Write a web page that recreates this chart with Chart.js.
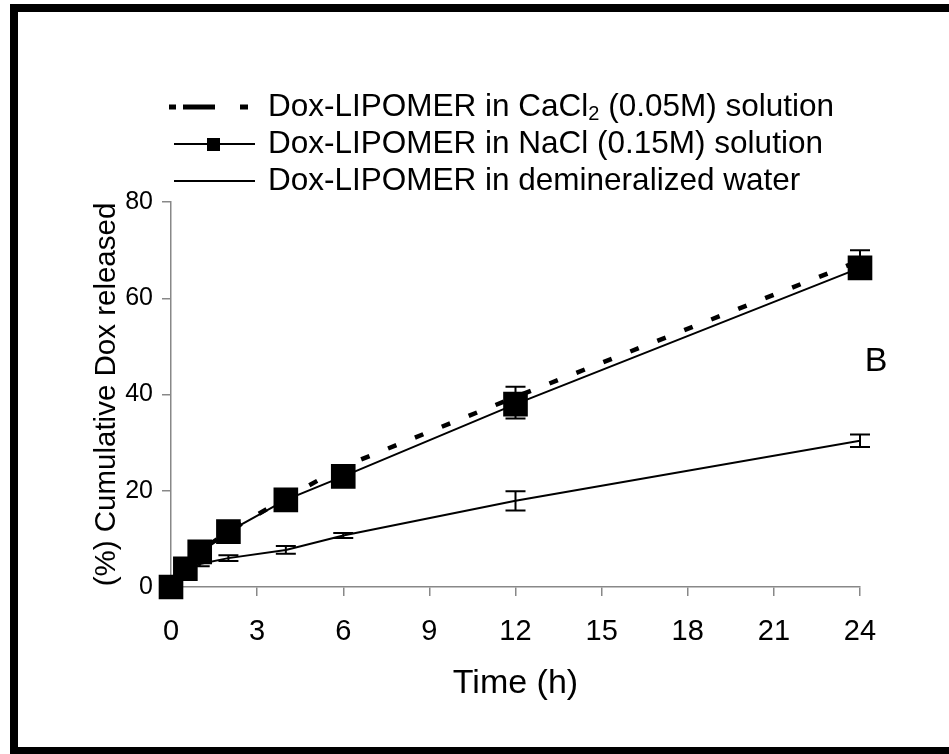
<!DOCTYPE html>
<html>
<head>
<meta charset="utf-8">
<title>Dox release</title>
<script src="https://cdn.jsdelivr.net/npm/chart.js@4"></script>
<style>
  html, body { margin: 0; padding: 0; background: #fff; overflow: hidden; }
  #frame {
    position: absolute; left: 10px; top: 4px; width: 960px; height: 750px;
    box-sizing: border-box; border-left: 8px solid #000; border-top: 8px solid #000; border-bottom: 7px solid #000;
  }
  #chart { position: absolute; left: 0; top: 0; }
</style>
</head>
<body>
<div id="frame"></div>
<canvas id="chart" width="949" height="754"></canvas>
<script>
// sampling times (h)
const hours = [0, 0.5, 1, 2, 4, 6, 12, 24]
// cumulative % released
const cacl2 = [0, 4, 7.5, 11.5, 18.5, 25, 39.5, 67.8]
const nacl = [0, 3.8, 7.3, 11.5, 18.1, 23, 38, 66.3]
const water = [0, 3, 4.8, 6, 7.7, 10.7, 17.9, 30.4]
// standard deviations (upper / lower)
const naclErrUp = [0, 0.5, 0.8, 1, 1, 1.2, 3.6, 3.7]
const naclErrDown = [0, 0.5, 0.8, 1, 1, 1.2, 3, 2]
const waterErrUp = [0, 0.3, 0.5, 0.6, 0.8, 0.5, 2, 1.3]
const waterErrDown = [0, 0.3, 0.5, 0.6, 0.8, 0.5, 2, 1.3]
const xTicks = [0, 3, 6, 9, 12, 15, 18, 21, 24]
const yTicks = [0, 20, 40, 60, 80]

const FONT = '"Liberation Sans", Arial, sans-serif'
const DASH = [9, 20]

function points(ys) {
    return hours.map((h, i) => ({ x: h, y: ys[i] }))
}

/**
 * @name errorBars
 * @description Draws vertical error bars with caps for datasets that carry errors.
 */
const errorBars = {
    id: 'errorBars',
    afterDatasetsDraw(chart) {
        const ctx = chart.ctx
        const xs = chart.scales.x
        const ys = chart.scales.y
        ctx.save()
        ctx.strokeStyle = '#000'
        ctx.lineWidth = 2
        chart.data.datasets.forEach(ds => {
            if (!ds.errUp) return
            ds.data.forEach((p, i) => {
                if (!ds.errUp[i] && !ds.errDown[i]) return
                const px = xs.getPixelForValue(p.x)
                const top = ys.getPixelForValue(p.y + ds.errUp[i])
                const bot = ys.getPixelForValue(Math.max(0, p.y - ds.errDown[i]))
                ctx.beginPath()
                ctx.moveTo(px, top)
                ctx.lineTo(px, bot)
                ctx.moveTo(px - 10, top)
                ctx.lineTo(px + 10, top)
                ctx.moveTo(px - 10, bot)
                ctx.lineTo(px + 10, bot)
                ctx.stroke()
            })
        })
        ctx.restore()
    },
}

/**
 * @name legendBox
 * @description Legend at the top with a subscript in CaCl2, plus the panel letter.
 */
const legendBox = {
    id: 'legendBox',
    afterDraw(chart) {
        const ctx = chart.ctx
        ctx.save()
        ctx.fillStyle = '#000'
        ctx.strokeStyle = '#000'
        ctx.textBaseline = 'middle'
        const tx = 268
        const rows = [107, 144, 181]

        // dash-dot sample
        ctx.lineWidth = 5
        ctx.setLineDash([7, 7, 32, 25, 8, 100])
        ctx.beginPath()
        ctx.moveTo(169, rows[0])
        ctx.lineTo(250, rows[0])
        ctx.stroke()
        ctx.setLineDash([])

        // line with square, plain line
        ctx.lineWidth = 2
        ctx.beginPath()
        ctx.moveTo(174, rows[1])
        ctx.lineTo(255, rows[1])
        ctx.moveTo(174, rows[2])
        ctx.lineTo(255, rows[2])
        ctx.stroke()
        ctx.fillRect(207, rows[1] - 6, 13, 13)

        const big = '31.5px ' + FONT
        ctx.font = big
        let s = 'Dox-LIPOMER in CaCl'
        ctx.fillText(s, tx, rows[0])
        let w = ctx.measureText(s).width
        ctx.font = '20px ' + FONT
        ctx.fillText('2', tx + w, rows[0] + 7)
        w += ctx.measureText('2').width
        ctx.font = big
        ctx.fillText(' (0.05M) solution', tx + w, rows[0])
        ctx.fillText('Dox-LIPOMER in NaCl (0.15M) solution', tx, rows[1])
        ctx.fillText('Dox-LIPOMER in demineralized water', tx, rows[2])

        ctx.font = '34px ' + FONT
        ctx.textAlign = 'center'
        ctx.fillText('B', 876, 362)
        ctx.restore()
    },
}

function renderChart() {
    const ctx = document.getElementById('chart').getContext('2d')
    new Chart(ctx, {
        type: 'line',
        data: {
            datasets: [
                {
                    label: 'Dox-LIPOMER in demineralized water',
                    data: points(water),
                    errUp: waterErrUp,
                    errDown: waterErrDown,
                    borderColor: '#000',
                    borderWidth: 2,
                    pointRadius: 0,
                },
                {
                    label: 'Dox-LIPOMER in CaCl2 (0.05M) solution',
                    data: points(cacl2),
                    borderColor: '#000',
                    borderWidth: 4.5,
                    borderDash: DASH,
                    pointRadius: 0,
                },
                {
                    label: 'Dox-LIPOMER in NaCl (0.15M) solution',
                    data: points(nacl),
                    errUp: naclErrUp,
                    errDown: naclErrDown,
                    borderColor: '#000',
                    borderWidth: 2,
                    pointStyle: 'rect',
                    pointRadius: 16,
                    pointBackgroundColor: '#000',
                    pointBorderColor: '#000',
                    clip: false,
                },
            ],
        },
        options: {
            responsive: false,
            animation: false,
            events: [],
            layout: { padding: { left: 20, top: 202, right: 89, bottom: 0 } },
            plugins: { legend: { display: false }, tooltip: { enabled: false } },
            elements: { line: { tension: 0 } },
            scales: {
                x: {
                    type: 'linear',
                    min: 0,
                    max: 24,
                    afterBuildTicks: s => { s.ticks = xTicks.map(v => ({ value: v })) },
                    afterFit: s => { s.height = 167 },
                    ticks: { color: '#000', font: { family: FONT, size: 29 }, padding: 19 },
                    grid: { drawOnChartArea: false, tickLength: 9, color: '#888', lineWidth: 1.5 },
                    border: { color: '#888', width: 1.5 },
                    title: {
                        display: true,
                        text: 'Time (h)',
                        color: '#000',
                        font: { family: FONT, size: 34 },
                        padding: { top: 0, bottom: 50 },
                    },
                },
                y: {
                    min: 0,
                    max: 80,
                    afterBuildTicks: s => { s.ticks = yTicks.map(v => ({ value: v })) },
                    afterFit: s => { s.width = 151 },
                    ticks: { color: '#000', font: { family: FONT, size: 25 }, padding: 9 },
                    grid: { drawOnChartArea: false, tickLength: 9, color: '#888', lineWidth: 1.5 },
                    border: { color: '#888', width: 1.5 },
                    title: {
                        display: true,
                        text: '(%) Cumulative Dox released',
                        color: '#000',
                        font: { family: FONT, size: 29.5 },
                        padding: { top: 69, bottom: 0 },
                    },
                },
            },
        },
        plugins: [errorBars, legendBox],
    })
}

renderChart()
</script>
</body>
</html>
